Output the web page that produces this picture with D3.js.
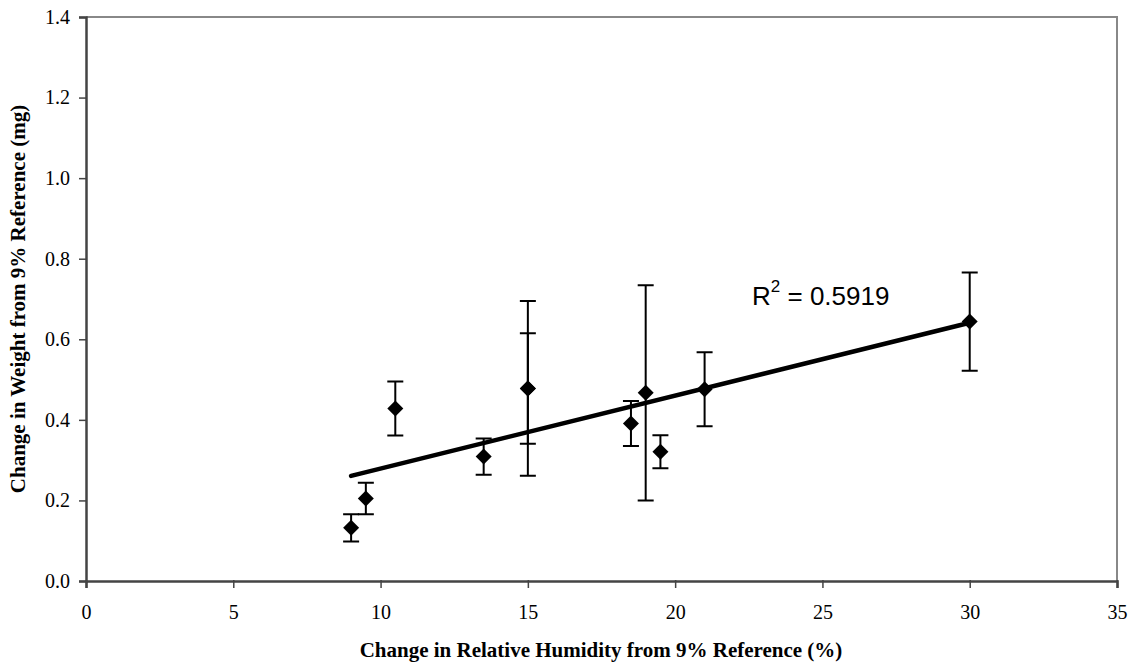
<!DOCTYPE html>
<html>
<head>
<meta charset="utf-8">
<script src="https://cdn.jsdelivr.net/npm/d3@7"></script>
<style>
  body { margin: 0; background: #fff; }
  .tick text { font-family: 'Liberation Serif', 'Times New Roman', serif; font-size: 20px; fill: #000; }
</style>
</head>
<body>
<div id="chart"></div>
<script>
// humidity change (%), weight change (mg), error (+/- mg)
let humidity = [9, 9.5, 10.5, 13.5, 15, 15, 18.5, 19, 19.5, 21, 30]
let weight = [0.132, 0.205, 0.428, 0.309, 0.478, 0.478, 0.391, 0.467, 0.321, 0.476, 0.644]
let errors = [0.034, 0.039, 0.067, 0.045, 0.217, 0.137, 0.056, 0.267, 0.041, 0.092, 0.122]

// linear trendline endpoints as shown
let trendX = [9, 30]
let trendY = [0.261, 0.641]
let rSquared = '0.5919'

let xTicks = [0, 5, 10, 15, 20, 25, 30, 35]
let yTicks = [0, 0.2, 0.4, 0.6, 0.8, 1.0, 1.2, 1.4]

let margin = { top: 17, left: 86, right: 13, bottom: 84 }
let width = 1130 - margin.left - margin.right
let height = 665 - margin.top - margin.bottom

let svg = d3
  .select('#chart')
  .append('svg')
  .attr('width', 1130)
  .attr('height', 665)
  .append('g')
  .attr('transform', 'translate(' + margin.left + ',' + margin.top + ')')

let xPositionScale = d3.scaleLinear().domain([0, 35]).range([0, width])
let yPositionScale = d3.scaleLinear().domain([0, 1.4]).range([height, 0])

// grey frame on top and right
svg
  .append('path')
  .attr('d', 'M0,0H' + width + 'V' + height)
  .attr('fill', 'none')
  .attr('stroke', '#888')
  .attr('stroke-width', 2)

let xAxis = d3
  .axisBottom(xPositionScale)
  .tickValues(xTicks)
  .tickFormat(d3.format('d'))
  .tickSize(7)
  .tickPadding(17)
svg
  .append('g')
  .attr('class', 'axis x-axis')
  .attr('transform', 'translate(0,' + height + ')')
  .call(xAxis)

let yAxis = d3
  .axisLeft(yPositionScale)
  .tickValues(yTicks)
  .tickFormat(d3.format('.1f'))
  .tickSize(7)
  .tickPadding(9)
svg
  .append('g')
  .attr('class', 'axis y-axis')
  .call(yAxis)

svg.selectAll('.axis .domain').attr('stroke', '#444').attr('stroke-width', 2.5)
svg.selectAll('.axis .tick line').attr('stroke', '#444').attr('stroke-width', 1.5)
svg.selectAll('.x-axis .tick line').attr('y1', -1)

let points = humidity.map((h, i) => ({ x: h, y: weight[i], err: errors[i] }))

// error bars
let bars = svg.append('g').attr('class', 'error-bars')
points.forEach(d => {
  let cx = xPositionScale(d.x)
  let top = yPositionScale(d.y + d.err)
  let bottom = yPositionScale(d.y - d.err)
  bars
    .append('path')
    .attr('d', 'M' + cx + ',' + top + 'V' + bottom +
      'M' + (cx - 8) + ',' + top + 'H' + (cx + 8) +
      'M' + (cx - 8) + ',' + bottom + 'H' + (cx + 8))
    .attr('stroke', '#000')
    .attr('stroke-width', 2)
    .attr('fill', 'none')
})

// trendline
let line = d3
  .line()
  .x(d => xPositionScale(d[0]))
  .y(d => yPositionScale(d[1]))
svg
  .append('path')
  .attr('d', line(d3.zip(trendX, trendY)))
  .attr('stroke', '#000')
  .attr('stroke-width', 4.5)
  .attr('stroke-linecap', 'round')
  .attr('fill', 'none')

// diamond markers
svg
  .selectAll('.marker')
  .data(points)
  .enter()
  .append('path')
  .attr('class', 'marker')
  .attr('d', 'M0,-8L8,0L0,8L-8,0Z')
  .attr('transform', d => 'translate(' + xPositionScale(d.x) + ',' + yPositionScale(d.y) + ')')
  .attr('fill', '#000')

// R squared label
let rText = svg
  .append('text')
  .attr('x', 752 - margin.left)
  .attr('y', 305 - margin.top)
  .attr('font-family', "'Liberation Sans', Arial, sans-serif")
  .attr('font-size', 26)
  .attr('fill', '#000')
rText.append('tspan').text('R')
rText.append('tspan').attr('dy', -13).attr('font-size', 17).text('2')
rText.append('tspan').attr('dy', 13).text(' = ' + rSquared)

// axis titles
svg
  .append('text')
  .attr('x', 601 - margin.left)
  .attr('y', 657 - margin.top)
  .attr('text-anchor', 'middle')
  .attr('font-family', "'Liberation Serif', 'Times New Roman', serif")
  .attr('font-weight', 'bold')
  .attr('font-size', 21)
  .text('Change in Relative Humidity from 9% Reference (%)')

svg
  .append('text')
  .attr('transform', 'translate(' + (25 - margin.left) + ',' + height / 2 + ') rotate(-90)')
  .attr('text-anchor', 'middle')
  .attr('font-family', "'Liberation Serif', 'Times New Roman', serif")
  .attr('font-weight', 'bold')
  .attr('font-size', 21)
  .text('Change in Weight from 9% Reference (mg)')
</script>
</body>
</html>
